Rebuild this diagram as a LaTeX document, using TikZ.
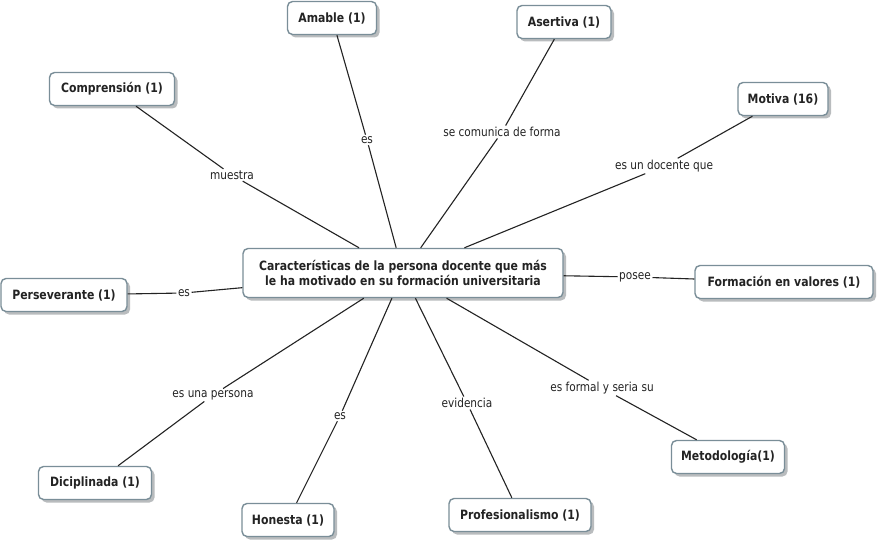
\documentclass[tikz,border=0pt]{standalone}
\usepackage{fontspec}
\setmainfont{DejaVu Sans}[FakeStretch=0.85]
\usetikzlibrary{shadows}
\definecolor{boxedge}{RGB}{122,142,152}
\definecolor{boxshade}{RGB}{185,188,190}
\definecolor{inkgrey}{RGB}{35,35,35}

\begin{document}
\begin{tikzpicture}[x=1pt, y=-1pt,
            concept/.style = {draw=boxedge, line width=1.4pt, fill=white, rounded corners=5pt,
                font=\bfseries\fontsize{12.8}{15.5}\selectfont, text=inkgrey, inner sep=2pt, minimum height=33pt,
                drop shadow={shadow xshift=3pt, shadow yshift=-3pt, fill=boxshade, opacity=1}},
            link/.style = {font=\fontsize{12.4}{14}\selectfont, text=inkgrey, inner sep=1.5pt},
            wire/.style = {draw=inkgrey, line width=1.1pt}]
            \fill [white] (0,0) rectangle (879,543);
            \useasboundingbox (0,0) rectangle (879,543);
            % concepts
            \node [concept, align=center, minimum width=320pt, minimum height=49pt] (centro) at (403,273) {Características de la persona docente que más\\le ha motivado en su formación universitaria};
            \node [concept, minimum width=89pt] (amable) at (332,18) {Amable (1)};
            \node [concept, minimum width=125pt] (comprension) at (112,89) {Comprensión (1)};
            \node [concept, minimum width=94pt] (asertiva) at (564,22) {Asertiva (1)};
            \node [concept, minimum width=90pt] (motiva) at (783,99) {Motiva (16)};
            \node [concept, minimum width=178pt] (valores) at (784,282) {Formación en valores (1)};
            \node [concept, minimum width=113pt] (metodo) at (728,457) {Metodología(1)};
            \node [concept, minimum width=142pt] (profesional) at (520,515) {Profesionalismo (1)};
            \node [concept, minimum width=92pt] (honesta) at (288,520) {Honesta (1)};
            \node [concept, minimum width=113pt] (disciplina) at (95,483) {Diciplinada (1)};
            \node [concept, minimum width=126pt] (persevera) at (64,295) {Perseverante (1)};
            % linking phrases
            \node [link] (esamable) at (367,140) {es};
            \node [link] (muestra) at (232,175) {muestra};
            \node [link] (comunica) at (502,132) {se comunica de forma};
            \node [link] (docente) at (664,166) {es un docente que};
            \node [link] (posee) at (635,277) {posee};
            \node [link] (formal) at (602,388) {es formal y seria su};
            \node [link] (evidencia) at (467,403) {evidencia};
            \node [link] (eshonesta) at (340,416) {es};
            \node [link] (persona) at (213,395) {es una persona};
            \node [link] (espersevera) at (184,293) {es};
            % connectors
            \draw [wire] (centro) -- (esamable) -- (amable);
            \draw [wire] (centro) -- (muestra) -- (comprension);
            \draw [wire] (centro) -- (comunica) -- (asertiva);
            \draw [wire] (centro) -- (docente) -- (motiva);
            \draw [wire] (centro) -- (posee) -- (valores);
            \draw [wire] (centro) -- (formal) -- (metodo);
            \draw [wire] (centro) -- (evidencia) -- (profesional);
            \draw [wire] (centro) -- (eshonesta) -- (honesta);
            \draw [wire] (centro) -- (persona) -- (disciplina);
            \draw [wire] (centro) -- (espersevera) -- (persevera);
        \end{tikzpicture}
\end{document}
